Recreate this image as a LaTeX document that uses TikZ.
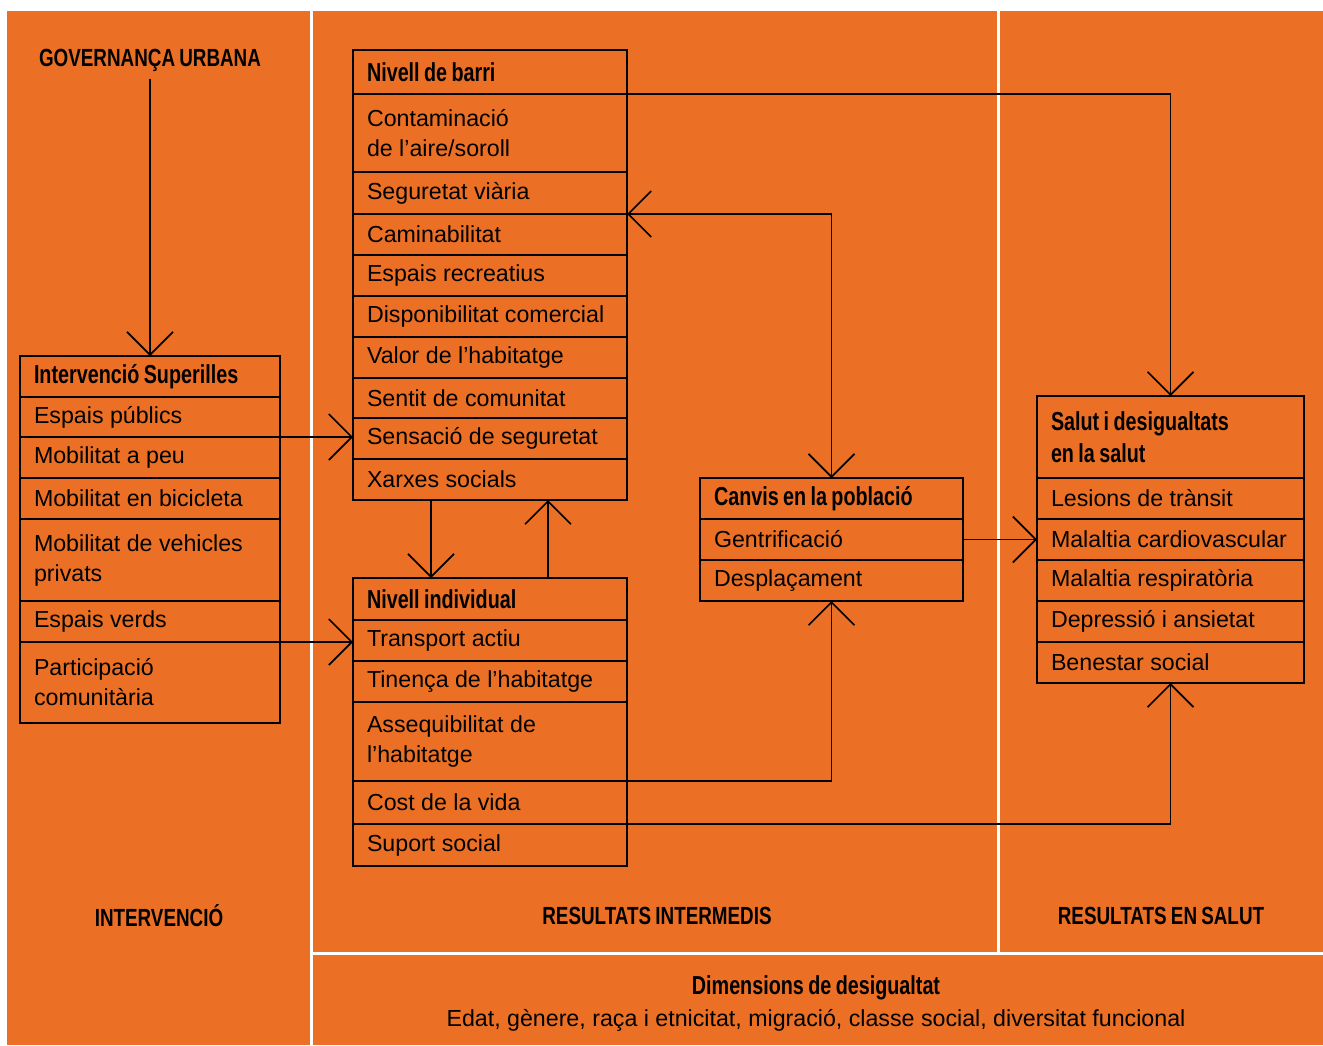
\documentclass[tikz,border=0pt]{standalone}
\usepackage{fontspec}
\setmainfont{Liberation Sans}
\newfontfamily\hdfont{Liberation Sans}[FakeStretch=0.76,WordSpace=0.8]
\usetikzlibrary{positioning,arrows.meta}
\definecolor{panelorange}{RGB}{235,112,37}
\newcommand\cellfont{\fontsize{11.6}{15}\selectfont}
\newcommand\boxheadfont{\hdfont\bfseries\fontsize{13}{16}\selectfont}
\newcommand\secfont{\hdfont\bfseries\fontsize{12.4}{15}\selectfont}

\begin{document}
\begin{tikzpicture}[x=0.5pt,y=-0.5pt,line width=1.1pt,
  >={Straight Barb[length=11.5pt,width=23pt]},
  row/.style={draw,outer sep=0pt,inner xsep=7pt,inner ysep=0pt,minimum height=20.5pt,align=left,text width=#1,font=\cellfont,
    execute at begin node={\spaceskip=0pt\xspaceskip=0pt}},
  hrow/.style={row=#1,font=\boxheadfont},
  sect/.style={font=\secfont},
  arr/.style={line width=0.85pt,->},
  arrb/.style={line width=0.85pt,<->}]
\useasboundingbox (0,0) rectangle (1323,1045);
\fill[panelorange] (7,11) rectangle (310,1045);
\fill[panelorange] (313,11) rectangle (997,952);
\fill[panelorange] (1000,11) rectangle (1323,952);
\fill[panelorange] (313,955) rectangle (1323,1045);

\node[sect] (gov) at (150,60) {GOVERNANÇA URBANA};
\node[sect] (intlab) at (159,916) {INTERVENCIÓ};
\node[sect] (reslab) at (657,916) {RESULTATS INTERMEDIS};
\node[sect] (sallab) at (1161,916) {RESULTATS EN SALUT};
\node[font=\boxheadfont] (dimhead) at (816,988) {Dimensions de desigualtat};
\node[font=\cellfont] (dimtext) at (816,1020) {Edat, gènere, raça i etnicitat, migració, classe social, diversitat funcional};

\node[hrow=116pt,anchor=north west] (sup1) at (20,356) {Intervenció Superilles};
\node[row=116pt,below=0pt of sup1,minimum height=20pt] (sup2) {Espais públics};
\node[row=116pt,below=0pt of sup2] (sup3) {Mobilitat a peu};
\node[row=116pt,below=0pt of sup3] (sup4) {Mobilitat en bicicleta};
\node[row=116pt,below=0pt of sup4,minimum height=41pt] (sup5) {Mobilitat de vehicles\\privats};
\node[row=116pt,below=0pt of sup5] (sup6) {Espais verds};
\node[row=116pt,below=0pt of sup6,minimum height=40.5pt] (sup7) {Participació\\comunitària};

\node[hrow=123pt,anchor=north west,minimum height=22pt] (barri1) at (353,50) {Nivell de barri};
\node[row=123pt,below=0pt of barri1,minimum height=39pt] (barri2) {Contaminació\\de l’aire/soroll};
\node[row=123pt,below=0pt of barri2,minimum height=21pt] (barri3) {Seguretat viària};
\node[row=123pt,below=0pt of barri3] (barri4) {Caminabilitat};
\node[row=123pt,below=0pt of barri4] (barri5) {Espais recreatius};
\node[row=123pt,below=0pt of barri5] (barri6) {Disponibilitat comercial};
\node[row=123pt,below=0pt of barri6] (barri7) {Valor de l’habitatge};
\node[row=123pt,below=0pt of barri7,minimum height=20pt] (barri8) {Sentit de comunitat};
\node[row=123pt,below=0pt of barri8] (barri9) {Sensació de seguretat};
\node[row=123pt,below=0pt of barri9] (barri10) {Xarxes socials};

\node[hrow=123pt,anchor=north west,minimum height=21pt] (ind1) at (353,578) {Nivell individual};
\node[row=123pt,below=0pt of ind1] (ind2) {Transport actiu};
\node[row=123pt,below=0pt of ind2] (ind3) {Tinença de l’habitatge};
\node[row=123pt,below=0pt of ind3,minimum height=39.5pt] (ind4) {Assequibilitat de\\l’habitatge};
\node[row=123pt,below=0pt of ind4,minimum height=21.5pt] (ind5) {Cost de la vida};
\node[row=123pt,below=0pt of ind5,minimum height=21pt] (ind6) {Suport social};

\node[hrow=117.5pt,anchor=north west] (can1) at (700,478) {Canvis en la població};
\node[row=117.5pt,below=0pt of can1] (can2) {Gentrificació};
\node[row=117.5pt,below=0pt of can2] (can3) {Desplaçament};

\node[hrow=119.5pt,anchor=north west,minimum height=41pt] (sal1) at (1037,396) {Salut i desigualtats\\en la salut};
\node[row=119.5pt,below=0pt of sal1] (sal2) {Lesions de trànsit};
\node[row=119.5pt,below=0pt of sal2] (sal3) {Malaltia cardiovascular};
\node[row=119.5pt,below=0pt of sal3] (sal4) {Malaltia respiratòria};
\node[row=119.5pt,below=0pt of sal4] (sal5) {Depressió i ansietat};
\node[row=119.5pt,below=0pt of sal5] (sal6) {Benestar social};

\draw[arr] (gov.south) -- (sup1.north);
\draw[arr] (sup2.south east) -- (sup2.south east -| barri9.west);
\draw[arr] (sup6.south east) -- (sup6.south east -| ind2.west);
\draw[arr] ([xshift=-29.5pt]barri10.south) -- ([xshift=-29.5pt]ind1.north);
\draw[arr] ([xshift=29pt]ind1.north) -- ([xshift=29pt]barri10.south);
\draw[arr] (barri1.south east) -| (sal1.north);
\draw[arrb] (barri3.south east) -| (can1.north);
\draw[arr] (ind4.south east) -| (can3.south);
\draw[arr] (can2.east) -- (can2.east -| sal3.west);
\draw[arr] (ind5.south east) -| (sal6.south);
\end{tikzpicture}
\end{document}
